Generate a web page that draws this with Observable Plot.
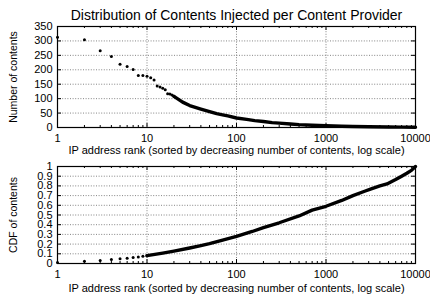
<!DOCTYPE html>
<html><head><meta charset="utf-8">
<script src="https://cdn.jsdelivr.net/npm/d3@7"></script>
<script src="https://cdn.jsdelivr.net/npm/@observablehq/plot@0.6"></script>
<style>
body{margin:0;background:#fff;}
#wrap{position:relative;width:430px;height:300px;overflow:hidden;background:#fff;}
#wrap svg{position:absolute;left:0;background:transparent;}
</style></head><body><div id="wrap"></div>
<script>
const title = "Distribution of Contents Injected per Content Provider";
const xTitle = "IP address rank (sorted by decreasing number of contents, log scale)";
const yTitleTop = "Number of contents";
const yTitleBottom = "CDF of contents";
const xTicks = [1, 10, 100, 1000, 10000];
const yTicksTop = [0, 50, 100, 150, 200, 250, 300, 350];
const yTicksBottom = [0, 0.1, 0.2, 0.3, 0.4, 0.5, 0.6, 0.7, 0.8, 0.9, 1];

// top panel: individual ranks
const topRanks = [1,2,3,4,5,6,7,8,9,10,11,12,13,14,15,16,17,18,19,20];
const topCounts = [313,304,266,246,219,211,201,180,180,178,172,165,144,140,136,131,117,116,113,108];
// top panel: dense tail
const tailRanks = [20,25,30,40,50,60,70,80,100,130,160,200,250,300,400,500,700,1000,1500,2000,3000,5000,7000,10000];
const tailCounts = [108,88,76,64,55,48,44,40,33,28,24,21,17,15,12,10,8,6,4.5,3.5,2.5,1.5,1.2,1];

// bottom panel: CDF
const cdfRanks = [1,2,3,4,5,6,7,8,9,10];
const cdfValues = [0.01,0.023,0.03,0.04,0.048,0.054,0.061,0.068,0.075,0.081];
const cdfTailRanks = [10,15,20,30,40,50,70,100,150,200,300,500,700,1000,1500,2000,2700,3200,4000,4800,6000,7000,8000,9000,10000];
const cdfTailValues = [0.081,0.107,0.128,0.16,0.185,0.205,0.24,0.28,0.33,0.37,0.42,0.49,0.55,0.59,0.65,0.70,0.745,0.77,0.80,0.82,0.865,0.90,0.93,0.96,1.0];

const font = "'Liberation Sans', Arial, Helvetica, sans-serif";
const W = 430, ML = 57, MR = 15;
const FW = W - ML - MR;
const minorTicks = d3.scaleLog().domain([1, 10000]).ticks().filter(t => !xTicks.includes(t));
const gridStyle = {stroke: "#666", strokeOpacity: 1, strokeWidth: 0.8, strokeDasharray: "1,1.6"};

function panel(o) {
  const FH = o.height - o.marginTop - o.marginBottom;
  const marks = [
    Plot.gridY(o.yTicks, gridStyle),
    Plot.gridX([10, 100, 1000], gridStyle),
    Plot.line(o.lineX.map((x, i) => ({x, y: o.lineY[i]})), {x: "x", y: "y", stroke: "#000", strokeWidth: 3.4, strokeLinejoin: "round", strokeLinecap: "round"}),
    Plot.dot(o.dotX.map((x, i) => ({x, y: o.dotY[i]})), {x: "x", y: "y", r: 1.5, fill: "#000", stroke: null}),
    // inward ticks
    Plot.tickY(o.yTicks, {y: d => d, insetRight: FW - 4, stroke: "#000"}),
    Plot.tickY(o.yTicks, {y: d => d, insetLeft: FW - 4, stroke: "#000"}),
    Plot.tickX(xTicks, {x: d => d, insetTop: FH - 4, stroke: "#000"}),
    Plot.tickX(xTicks, {x: d => d, insetBottom: FH - 4, stroke: "#000"}),
    Plot.tickX(minorTicks, {x: d => d, insetTop: FH - 2, stroke: "#000"}),
    Plot.tickX(minorTicks, {x: d => d, insetBottom: FH - 2, stroke: "#000"}),
    Plot.frame({stroke: "#000", strokeWidth: 1.2}),
    Plot.axisX({ticks: xTicks, tickSize: 0, tickPadding: 7, tickFormat: d => String(d), label: null, fontSize: 11}),
    Plot.axisY({ticks: o.yTicks, tickSize: 0, tickPadding: 5, tickFormat: d => String(d), label: null, fontSize: 11}),
    Plot.text([xTitle], {text: d => d, frameAnchor: "bottom", dy: o.xTitleDy, fontSize: 11}),
    Plot.text([o.yTitle], {text: d => d, frameAnchor: "left", textAnchor: "middle", dx: -44, rotate: -90, fontSize: 10.5})
  ];
  if (o.title) marks.push(Plot.text([o.title], {text: d => d, frameAnchor: "top", dy: -16, fontSize: 14}));
  const svg = Plot.plot({
    width: W, height: o.height,
    marginLeft: ML, marginRight: MR, marginTop: o.marginTop, marginBottom: o.marginBottom,
    style: {fontFamily: font, fontSize: "11px", color: "#000", background: "transparent", overflow: "visible"},
    x: {type: "log", domain: [1, 10000]},
    y: {domain: o.yDomain},
    marks
  });
  svg.style.top = o.top + "px";
  return svg;
}

const wrap = document.getElementById("wrap");
wrap.appendChild(panel({
  top: 0, height: 160, marginTop: 26, marginBottom: 33,
  yDomain: [0, 350], yTicks: yTicksTop, yTitle: yTitleTop,
  dotX: topRanks, dotY: topCounts, lineX: tailRanks, lineY: tailCounts,
  xTitleDy: 26, title
}));
wrap.appendChild(panel({
  top: 160, height: 140, marginTop: 6, marginBottom: 37,
  yDomain: [0, 1], yTicks: yTicksBottom, yTitle: yTitleBottom,
  dotX: cdfRanks, dotY: cdfValues, lineX: cdfTailRanks, lineY: cdfTailValues,
  xTitleDy: 28
}));
</script></body></html>
